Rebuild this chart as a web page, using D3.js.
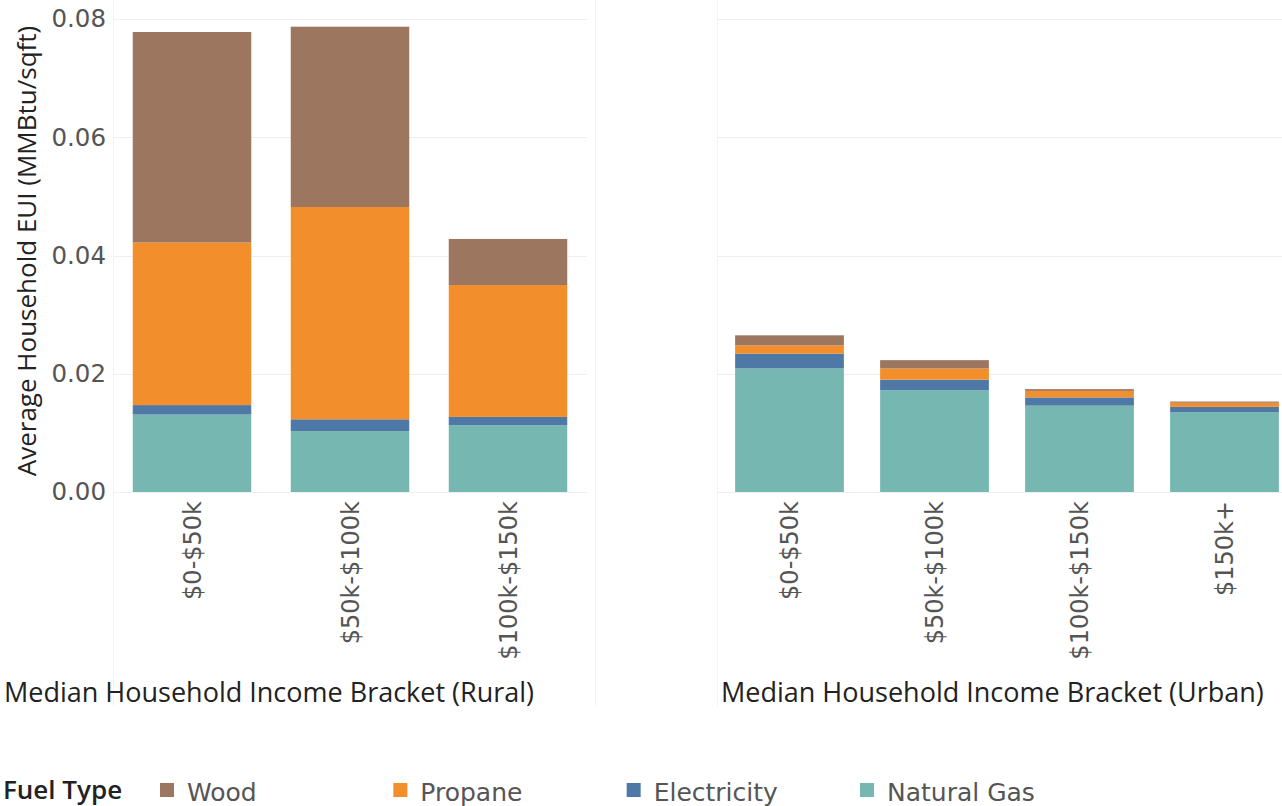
<!DOCTYPE html>
<html>
<head>
<meta charset="utf-8">
<script src="https://cdn.jsdelivr.net/npm/d3@7"></script>
<style>
  body { margin: 0; background: #fff; overflow: hidden; }
  text { font-family: "Open Sans", "Noto Sans", sans-serif; }
</style>
</head>
<body>
<script>
var fuels = ["Natural Gas", "Electricity", "Propane", "Wood"]
var legendOrder = ["Wood", "Propane", "Electricity", "Natural Gas"]
var colors = ["#76b7b2", "#4e79a7", "#f28e2b", "#9c765e"]

var ruralBrackets = ["$0-$50k", "$50k-$100k", "$100k-$150k"]
var ruralGas = [0.0131, 0.0103, 0.0113]
var ruralElec = [0.0016, 0.0020, 0.0014]
var ruralPropane = [0.0275, 0.0359, 0.0223]
var ruralWood = [0.0356, 0.0305, 0.0078]

var urbanBrackets = ["$0-$50k", "$50k-$100k", "$100k-$150k", "$150k+"]
var urbanGas = [0.0209, 0.0172, 0.0146, 0.0135]
var urbanElec = [0.0025, 0.0018, 0.0014, 0.0009]
var urbanPropane = [0.0014, 0.0019, 0.0011, 0.0007]
var urbanWood = [0.0017, 0.0014, 0.0003, 0.0002]

var yTicks = [0, 0.02, 0.04, 0.06, 0.08]

var width = 1282, height = 806
var plotTop = 19, plotBottom = 492
var tickFont = "'DejaVu Sans', sans-serif"

var svg = d3.select("body").append("svg")
    .attr("width", width)
    .attr("height", height)

var y = d3.scaleLinear()
    .domain([0, 0.08])
    .range([plotBottom, plotTop])

var color = d3.scaleOrdinal().domain(fuels).range(colors)

function rows(brackets, gas, elec, propane, wood) {
  return brackets.map(function(b, i) {
    return {bracket: b, "Natural Gas": gas[i], "Electricity": elec[i], "Propane": propane[i], "Wood": wood[i]}
  })
}

var panels = [
  {name: "Rural", data: rows(ruralBrackets, ruralGas, ruralElec, ruralPropane, ruralWood), x0: 113, x1: 587, gridEnd: 587, titleX: 4},
  {name: "Urban", data: rows(urbanBrackets, urbanGas, urbanElec, urbanPropane, urbanWood), x0: 717, x1: 1297, gridEnd: 1282, titleX: 721}
]

// faint pane borders
svg.selectAll(".pane-border")
    .data([113, 595, 717])
  .enter().append("line")
    .attr("x1", function(d) { return d + 0.5 }).attr("x2", function(d) { return d + 0.5 })
    .attr("y1", 0).attr("y2", 706)
    .attr("stroke", "#f3f3f3")

panels.forEach(function(p) {
  var x = d3.scaleBand()
      .domain(p.data.map(function(d) { return d.bracket }))
      .range([p.x0, p.x1])
      .paddingInner(0.25)
      .paddingOuter(0.125)

  var g = svg.append("g")

  g.selectAll(".grid")
      .data(yTicks)
    .enter().append("line")
      .attr("x1", p.x0).attr("x2", p.gridEnd)
      .attr("y1", function(d) { return Math.round(y(d)) + 0.5 })
      .attr("y2", function(d) { return Math.round(y(d)) + 0.5 })
      .attr("stroke", "#efefef")

  var series = d3.stack().keys(fuels)(p.data)

  g.selectAll(".series")
      .data(series)
    .enter().append("g")
      .attr("fill", function(d) { return color(d.key) })
    .selectAll("rect")
      .data(function(d) { return d })
    .enter().append("rect")
      .attr("x", function(d) { return x(d.data.bracket) })
      .attr("width", x.bandwidth())
      .attr("y", function(d) { return y(d[1]) })
      .attr("height", function(d) { return y(d[0]) - y(d[1]) })

  var xAxis = g.append("g")
      .attr("transform", "translate(0," + plotBottom + ")")
      .call(d3.axisBottom(x).tickSize(0).tickPadding(0))
  xAxis.select(".domain").remove()
  xAxis.selectAll("text")
      .attr("transform", "rotate(-90)")
      .attr("x", -9)
      .attr("y", 0)
      .attr("dy", "0.36em")
      .attr("text-anchor", "end")
      .attr("fill", "#555")
      .style("font-size", "24px")
      .style("font-family", tickFont)

  svg.append("text")
      .attr("x", p.titleX)
      .attr("y", 702)
      .attr("fill", "#222")
      .style("font-size", "27px")
      .text("Median Household Income Bracket (" + p.name + ")")
})

// y axis on the rural pane
var yAxis = svg.append("g")
    .attr("transform", "translate(106,0)")
    .call(d3.axisLeft(y).tickValues(yTicks).tickFormat(d3.format(".2f")).tickSize(0).tickPadding(0))
yAxis.select(".domain").remove()
yAxis.selectAll("text")
    .attr("fill", "#555")
    .style("font-size", "24.5px")
    .style("font-family", tickFont)

svg.append("text")
    .attr("transform", "translate(36,251) rotate(-90)")
    .attr("text-anchor", "middle")
    .attr("fill", "#222")
    .style("font-size", "26px")
    .text("Average Household EUI (MMBtu/sqft)")

// legend
svg.append("text")
    .attr("x", 3)
    .attr("y", 799)
    .attr("fill", "#222")
    .style("font-size", "26px")
    .style("font-weight", "600")
    .text("Fuel Type")

var legendX = d3.scalePoint().domain(legendOrder).range([160, 860])

var item = svg.selectAll(".legend")
    .data(legendOrder)
  .enter().append("g")
    .attr("transform", function(d) { return "translate(" + legendX(d) + ",0)" })

item.append("rect")
    .attr("y", 783)
    .attr("width", 14)
    .attr("height", 14)
    .attr("fill", function(d) { return color(d) })

item.append("text")
    .attr("x", 27)
    .attr("y", 801)
    .attr("fill", "#555")
    .style("font-size", "25px")
    .style("font-family", tickFont)
    .text(function(d) { return d })
</script>
</body>
</html>
